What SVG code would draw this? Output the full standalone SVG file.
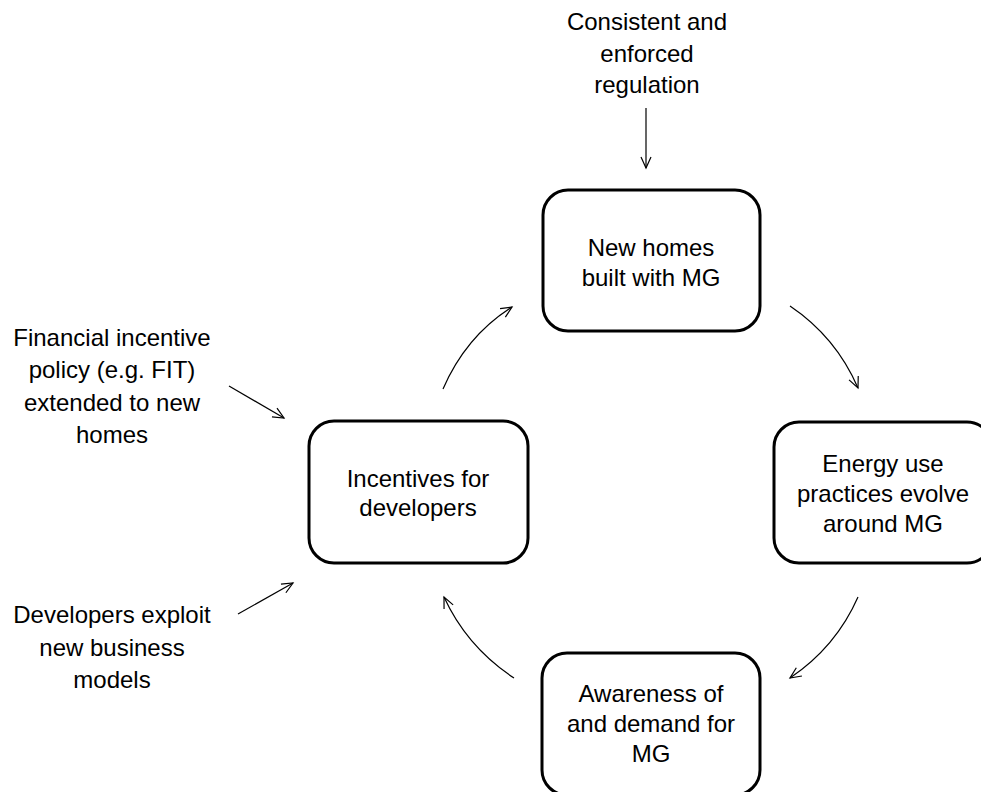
<svg xmlns="http://www.w3.org/2000/svg" width="981" height="792" viewBox="0 0 981 792">
  <defs>
    <style>
      .box { fill: #ffffff; stroke: #000000; stroke-width: 3; }
      .lbl { font-family: "Liberation Sans", Arial, sans-serif; font-size: 24px; fill: #000000; text-anchor: middle; }
      .conn { fill: none; stroke: #000000; stroke-width: 1.2; marker-end: url(#open-arrow); }
    </style>
    <marker id="open-arrow" markerUnits="userSpaceOnUse" markerWidth="14" markerHeight="14" refX="12" refY="6" orient="auto">
      <path d="M1,1 L12,6 L1,11" fill="none" stroke="#000000" stroke-width="1.2"/>
    </marker>
  </defs>
  <rect width="981" height="792" fill="#ffffff"/>

  <!-- outside influences (plain text) -->
  <g id="regulation">
    <text class="lbl" x="647" y="30">Consistent and</text>
    <text class="lbl" x="647" y="62">enforced</text>
    <text class="lbl" x="647" y="93">regulation</text>
  </g>
  <g id="financial-policy">
    <text class="lbl" x="112" y="346">Financial incentive</text>
    <text class="lbl" x="112" y="378">policy (e.g. FIT)</text>
    <text class="lbl" x="112" y="411">extended to new</text>
    <text class="lbl" x="112" y="443">homes</text>
  </g>
  <g id="business-models">
    <text class="lbl" x="112" y="623">Developers exploit</text>
    <text class="lbl" x="112" y="656">new business</text>
    <text class="lbl" x="112" y="688">models</text>
  </g>

  <!-- cycle nodes -->
  <g id="new-homes">
    <rect class="box" x="543" y="190" width="217" height="141" rx="25"/>
    <text class="lbl" x="651" y="256">New homes</text>
    <text class="lbl" x="651" y="286">built with MG</text>
  </g>
  <g id="energy-use">
    <rect class="box" x="774" y="422" width="218" height="141" rx="25"/>
    <text class="lbl" x="883" y="472">Energy use</text>
    <text class="lbl" x="883" y="502">practices evolve</text>
    <text class="lbl" x="883" y="532">around MG</text>
  </g>
  <g id="awareness">
    <rect class="box" x="542" y="653" width="218" height="142" rx="25"/>
    <text class="lbl" x="651" y="702">Awareness of</text>
    <text class="lbl" x="651" y="732">and demand for</text>
    <text class="lbl" x="651" y="762">MG</text>
  </g>
  <g id="incentives">
    <rect class="box" x="309" y="421" width="219" height="142" rx="25"/>
    <text class="lbl" x="418" y="487">Incentives for</text>
    <text class="lbl" x="418" y="516">developers</text>
  </g>

  <!-- connectors -->
  <g id="connectors">
    <path class="conn" d="M646,108 L646,168"/>
    <path class="conn" d="M790,306 Q836,337 858,388"/>
    <path class="conn" d="M858,597 Q836,647 790,678"/>
    <path class="conn" d="M514,678 Q467,647 444,597"/>
    <path class="conn" d="M443,389 Q466,336 512,307"/>
    <path class="conn" d="M229,386 L284,418"/>
    <path class="conn" d="M238,614 L293,583"/>
  </g>
</svg>
